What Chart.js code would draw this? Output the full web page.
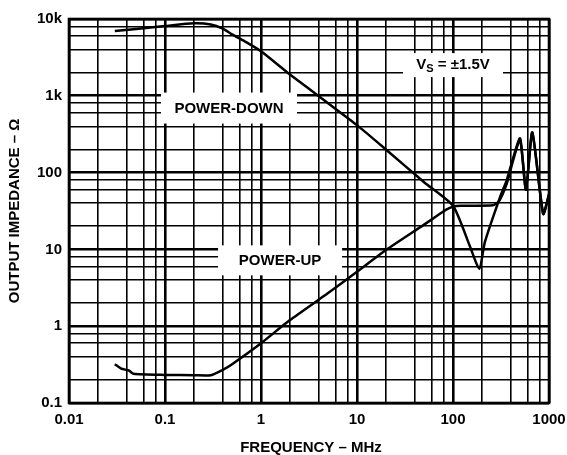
<!DOCTYPE html>
<html>
<head>
<meta charset="utf-8">
<script src="https://cdn.jsdelivr.net/npm/chart.js@4.4.1/dist/chart.umd.min.js"></script>
<style>
  body { margin: 0; background: #fff; }
  #wrap { width: 567px; height: 455px; position: relative; }
</style>
</head>
<body>
<div id="wrap"><canvas id="chart"></canvas></div>
<script>
// frequency (MHz) / impedance (ohm)
const downFreq = [0.03, 0.05, 0.1, 0.2, 0.3, 0.4, 0.5, 0.7, 1, 2, 5, 10, 20, 50, 100, 150, 188, 215, 309, 363, 420, 500, 575, 670, 870, 1000];
const downZ    = [7000, 7400, 8100, 8800, 8500, 7500, 6300, 5000, 3800, 1900, 800, 415, 200, 75, 37, 11, 5.6, 12.5, 48, 80, 150, 280, 60, 335, 29, 52];

const upFreq = [0.03, 0.035, 0.042, 0.047, 0.1, 0.2, 0.3, 0.4, 0.5, 1, 2, 5, 10, 20, 50, 70, 85, 100, 120, 260, 300, 363, 420, 500, 575, 670, 870, 1000];
const upZ    = [0.32, 0.28, 0.265, 0.24, 0.232, 0.23, 0.23, 0.27, 0.32, 0.6, 1.2, 2.7, 5.1, 9.8, 21, 28, 33, 36, 37, 37.5, 42, 72, 140, 270, 60, 330, 29, 52];

// grid lines at 1,2,4,6,8 of each decade
const xGrid = [0.01, 0.02, 0.04, 0.06, 0.08, 0.1, 0.2, 0.4, 0.6, 0.8, 1, 2, 4, 6, 8, 10, 20, 40, 60, 80, 100, 200, 400, 600, 800, 1000];
const yGrid = [0.1, 0.2, 0.4, 0.6, 0.8, 1, 2, 4, 6, 8, 10, 20, 40, 60, 80, 100, 200, 400, 600, 800, 1000, 2000, 4000, 6000, 8000, 10000];
const xTickValues = [0.01, 0.1, 1, 10, 100, 1000];
const xTickLabels = ['0.01', '0.1', '1', '10', '100', '1000'];
const yTickValues = [0.1, 1, 10, 100, 1000, 10000];
const yTickLabels = ['0.1', '1', '10', '100', '1k', '10k'];

const FONT = '"Liberation Sans", Arial, Helvetica, sans-serif';

const isDecade = v => Math.abs(Math.log10(v) - Math.round(Math.log10(v))) < 1e-6;

function tickLabel(values, labels) {
  return function (value) {
    const i = values.findIndex(v => Math.abs(v - value) / v < 1e-6);
    return i >= 0 ? labels[i] : '';
  };
}

// white label boxes + axis titles
const annotations = {
  id: 'annotations',
  beforeDatasetsDraw(chart) {
    const { ctx, chartArea, scales } = chart;
    const x = scales.x, y = scales.y;
    ctx.save();

    const boxes = [
      { f: 0.464, z: 692, w: 136, h: 31, text: 'POWER-DOWN' },
      { f: 1.58, z: 7.2, w: 124, h: 30, text: 'POWER-UP' },
      { f: 100, z: 2510, w: 100, h: 24, text: null }
    ];
    ctx.textAlign = 'center';
    ctx.textBaseline = 'middle';
    boxes.forEach(b => {
      const cx = x.getPixelForValue(b.f), cy = y.getPixelForValue(b.z);
      ctx.fillStyle = '#fff';
      ctx.fillRect(cx - b.w / 2, cy - b.h / 2, b.w, b.h);
      if (b.text) {
        ctx.fillStyle = '#000';
        ctx.font = 'bold 15px ' + FONT;
        ctx.fillText(b.text, cx, cy + 1);
      }
    });

    // V_S = ±1.5V
    const vx = x.getPixelForValue(100), vy = y.getPixelForValue(2510);
    ctx.fillStyle = '#000';
    ctx.textAlign = 'left';
    ctx.font = 'bold 15px ' + FONT;
    const w1 = ctx.measureText('V').width;
    const rest = ' = \u00b11.5V';
    const w3 = ctx.measureText(rest).width;
    ctx.font = 'bold 11px ' + FONT;
    const w2 = ctx.measureText('S').width;
    let sx = vx - (w1 + w2 + w3) / 2;
    ctx.font = 'bold 15px ' + FONT;
    ctx.fillText('V', sx, vy);
    ctx.font = 'bold 11px ' + FONT;
    ctx.fillText('S', sx + w1, vy + 4);
    ctx.font = 'bold 15px ' + FONT;
    ctx.fillText(rest, sx + w1 + w2, vy);

    // frame
    ctx.strokeStyle = '#000';
    ctx.lineWidth = 2.6;
    ctx.strokeRect(chartArea.left, chartArea.top, chartArea.right - chartArea.left, chartArea.bottom - chartArea.top);

    // axis titles
    ctx.font = 'bold 15px ' + FONT;
    ctx.textAlign = 'center';
    ctx.fillText('FREQUENCY \u2013 MHz', (chartArea.left + chartArea.right) / 2 + 2, 448);
    ctx.translate(15, (chartArea.top + chartArea.bottom) / 2);
    ctx.rotate(-Math.PI / 2);
    ctx.fillText('OUTPUT IMPEDANCE \u2013 \u03a9', 0, 0);
    ctx.restore();
  }
};

new Chart(document.getElementById('chart').getContext('2d'), {
  type: 'line',
  data: {
    datasets: [
      {
        label: 'POWER-DOWN',
        data: downFreq.map((f, i) => ({ x: f, y: downZ[i] })),
        borderColor: '#000',
        borderWidth: 2.5,
        pointRadius: 0,
        tension: 0.2
      },
      {
        label: 'POWER-UP',
        data: upFreq.map((f, i) => ({ x: f, y: upZ[i] })),
        borderColor: '#000',
        borderWidth: 2.5,
        pointRadius: 0,
        tension: 0.2
      }
    ]
  },
  options: {
    responsive: true,
    maintainAspectRatio: false,
    animation: false,
    layout: { padding: { top: 19, right: 18, left: 0, bottom: 0 } },
    plugins: { legend: { display: false }, tooltip: { enabled: false } },
    scales: {
      x: {
        type: 'logarithmic',
        min: 0.01,
        max: 1000,
        afterBuildTicks: s => { s.ticks = xGrid.map(v => ({ value: v })); },
        afterFit: s => { s.height = 52; s.paddingLeft = 0; s.paddingRight = 0; },
        grid: {
          color: '#000',
          lineWidth: c => (c.tick && isDecade(c.tick.value) ? 2.6 : 1.6),
          drawTicks: false
        },
        border: { display: false },
        ticks: {
          autoSkip: false,
          maxRotation: 0,
          padding: 8,
          color: '#000',
          font: { family: FONT, size: 15, weight: 'bold' },
          callback: tickLabel(xTickValues, xTickLabels)
        }
      },
      y: {
        type: 'logarithmic',
        min: 0.1,
        max: 10000,
        afterBuildTicks: s => { s.ticks = yGrid.map(v => ({ value: v })); },
        afterFit: s => { s.width = 69; s.paddingTop = 0; s.paddingBottom = 0; },
        grid: {
          color: '#000',
          lineWidth: c => (c.tick && isDecade(c.tick.value) ? 2.6 : 1.6),
          drawTicks: false
        },
        border: { display: false },
        ticks: {
          autoSkip: false,
          padding: 7,
          color: '#000',
          font: { family: FONT, size: 15, weight: 'bold' },
          callback: tickLabel(yTickValues, yTickLabels)
        }
      }
    }
  },
  plugins: [annotations]
});
</script>
</body>
</html>
